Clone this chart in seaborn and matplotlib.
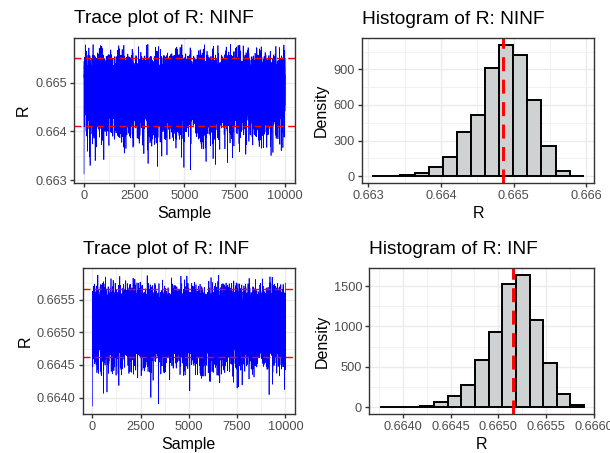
import numpy as np
import matplotlib
matplotlib.use("Agg")
import matplotlib.pyplot as plt
from matplotlib.ticker import MultipleLocator, FormatStrFormatter
import seaborn as sns

sns.set_theme(context="notebook", style="white")
plt.rcParams["font.family"] = ["Liberation Sans", "DejaVu Sans"]

# values
# histogram: 15 equal bins between bin_range, bar heights as density
ninf_bin_range = [0.663055, 0.665966]
ninf_density = [1, 5, 8, 28, 78, 163, 374, 521, 914, 1111, 1028, 643, 252, 42, 5]
ninf_min_max = [0.663081, 0.665793]   # lowest / highest point of the trace
ninf_mean = 0.664848
ninf_band = [0.664112, 0.665508]      # dashed lines on the trace

inf_bin_range = [0.663754, 0.665901]
inf_density = [1, 2, 5, 10, 66, 131, 275, 582, 934, 1520, 1635, 1082, 549, 160, 20]
inf_min_max = [0.663853, 0.665880]
inf_mean = 0.665150
inf_band = [0.664627, 0.665657]

n_samples = 10000
sample_idx = np.arange(1, n_samples + 1)

FIG_W, FIG_H = 610, 453
FILL = "#CFD2D3"


def chain_order(steps, rho=0.6):
    # deterministic ordering for the chain: sum of Weyl sequences, smoothed like an AR(1)
    j = np.arange(n_samples)
    e = sum((j * s) % 1.0 - 0.5 for s in steps)
    z = np.empty(n_samples)
    z[0] = e[0]
    for i in range(1, n_samples):
        z[i] = rho * z[i - 1] + e[i]
    return np.argsort(np.argsort(z))


def rebuild_chain(bin_range, density, min_max, steps):
    # chain rebuilt from the histogram: inverse cdf at evenly spaced levels
    edges = np.linspace(bin_range[0], bin_range[1], len(density) + 1)
    p = np.asarray(density, float) * np.diff(edges)
    cdf = np.concatenate([[0.0], np.cumsum(p) / p.sum()])
    knots = edges.copy()
    knots[0], knots[-1] = min_max
    levels = (np.arange(n_samples) + 0.5) / n_samples
    sorted_vals = np.interp(levels, cdf, knots)
    return edges, sorted_vals[chain_order(steps)]


def panel(left, top, right, bottom):
    return [left / FIG_W, 1 - bottom / FIG_H, (right - left) / FIG_W, (bottom - top) / FIG_H]


def style_axes(ax, title, xlabel, ylabel):
    ax.set_title(title, loc="left", fontsize=13.8, pad=10.5, color="black")
    ax.set_xlabel(xlabel, fontsize=11.5, labelpad=2.9, color="black")
    ax.set_ylabel(ylabel, fontsize=11.5, labelpad=2.9, color="black")
    ax.grid(True, which="major", color="#EBEBEB", linewidth=1.0)
    ax.grid(True, which="minor", color="#EBEBEB", linewidth=0.5)
    ax.set_axisbelow(True)
    for s in ax.spines.values():
        s.set_visible(True)
        s.set_color("#333333")
        s.set_linewidth(1.0)
    ax.tick_params(which="major", length=2.9, width=1.0, color="#333333",
                   labelsize=9.2, labelcolor="#4D4D4D", pad=2.3,
                   bottom=True, left=True)
    ax.tick_params(which="minor", length=0)


def trace_plot(ax, chain, band, min_max, title, yfmt, ystep):
    sns.lineplot(x=sample_idx, y=chain, ax=ax, color="blue", linewidth=0.5,
                 estimator=None, sort=False)
    for b in band:
        ax.axhline(b, color="red", linewidth=1.0, linestyle=(0, (5, 3.1)))
    pad = 0.05 * (n_samples - 1)
    ax.set_xlim(1 - pad, n_samples + pad)
    rng = min_max[1] - min_max[0]
    ax.set_ylim(min_max[0] - 0.05 * rng, min_max[1] + 0.05 * rng)
    ax.xaxis.set_major_locator(MultipleLocator(2500))
    ax.xaxis.set_minor_locator(MultipleLocator(1250))
    ax.yaxis.set_major_locator(MultipleLocator(ystep))
    ax.yaxis.set_minor_locator(MultipleLocator(ystep / 2))
    ax.yaxis.set_major_formatter(FormatStrFormatter(yfmt))
    style_axes(ax, title, "Sample", "R")


def hist_plot(ax, chain, edges, mean, title, xfmt, xstep, ystep):
    sns.histplot(x=chain, bins=edges, stat="density", ax=ax, color=FILL,
                 edgecolor="black", linewidth=1.4, alpha=1)
    ax.axvline(mean, color="red", linewidth=2.1, linestyle=(0, (4.8, 2.9)))
    rng = edges[-1] - edges[0]
    ax.set_xlim(edges[0] - 0.05 * rng, edges[-1] + 0.05 * rng)
    top = max(p.get_height() for p in ax.patches)
    ax.set_ylim(-0.05 * top, 1.05 * top)
    ax.xaxis.set_major_locator(MultipleLocator(xstep))
    ax.xaxis.set_minor_locator(MultipleLocator(xstep / 2))
    ax.xaxis.set_major_formatter(FormatStrFormatter(xfmt))
    ax.yaxis.set_major_locator(MultipleLocator(ystep))
    ax.yaxis.set_minor_locator(MultipleLocator(ystep / 2))
    style_axes(ax, title, "R", "Density")


ninf_edges, ninf_chain = rebuild_chain(ninf_bin_range, ninf_density, ninf_min_max,
                                       [np.sqrt(2), np.sqrt(3), np.sqrt(5), np.sqrt(7)])
inf_edges, inf_chain = rebuild_chain(inf_bin_range, inf_density, inf_min_max,
                                     [np.sqrt(11), np.sqrt(13), np.sqrt(17), np.sqrt(19)])

fig = plt.figure(figsize=(6.1, 4.53), dpi=100)
fig.patch.set_facecolor("white")

ax1 = fig.add_axes(panel(74, 37.7, 295, 182.7))
trace_plot(ax1, ninf_chain, ninf_band, ninf_min_max, "Trace plot of R: NINF", "%.3f", 0.001)

ax2 = fig.add_axes(panel(361.7, 38.3, 594.3, 182.7))
hist_plot(ax2, ninf_chain, ninf_edges, ninf_mean, "Histogram of R: NINF", "%.3f", 0.001, 300)

ax3 = fig.add_axes(panel(82.7, 268.3, 295, 413.7))
trace_plot(ax3, inf_chain, inf_band, inf_min_max, "Trace plot of R: INF", "%.4f", 0.0005)

ax4 = fig.add_axes(panel(369.3, 268.3, 594.3, 413.7))
hist_plot(ax4, inf_chain, inf_edges, inf_mean, "Histogram of R: INF", "%.4f", 0.0005, 500)

fig.savefig("out.png", dpi=100, facecolor="white")
